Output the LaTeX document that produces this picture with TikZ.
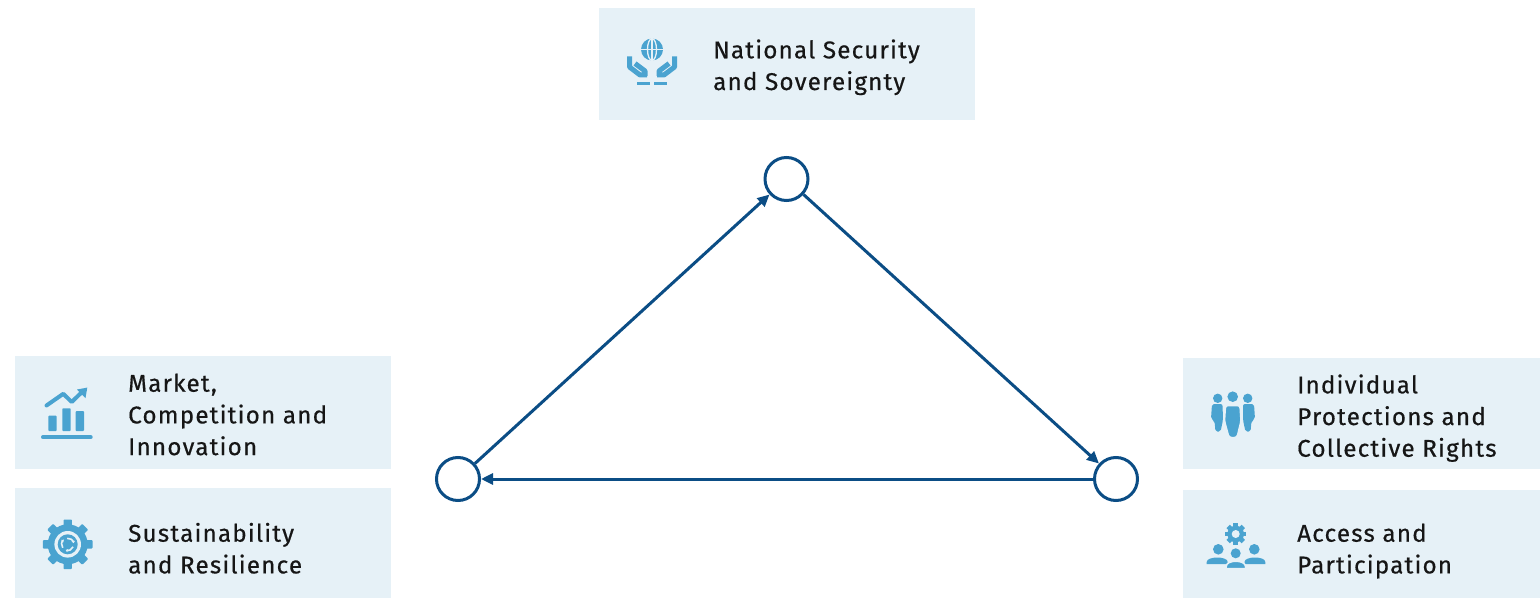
\documentclass[tikz,border=0pt]{standalone}
\usepackage{fontspec}
\setmainfont{Fira Sans}[LetterSpace=5, FakeBold=0.5]
\usetikzlibrary{arrows.meta}
\definecolor{boxfill}{HTML}{E6F1F7}
\definecolor{iconblue}{HTML}{4AA3D0}
\definecolor{linkblue}{HTML}{0B4D85}
\definecolor{txt}{HTML}{161616}
\newcommand{\boxtext}[1]{\begin{tabular}[t]{@{}l@{}}#1\end{tabular}}
\tikzset{
  infobox/.style={fill=boxfill, draw=none, inner sep=0pt},
  label/.style={anchor=base west, inner sep=0pt, text=txt,
     font=\fontsize{24.2}{31.7}\selectfont},
  hub/.style={circle, draw=linkblue, line width=3pt, fill=white, minimum size=43pt, inner sep=0pt},
  link/.style={draw=linkblue, line width=3pt, -{Triangle[length=12pt,width=11pt]}},
  icon/.style={fill=iconblue},
}
\begin{document}
\begin{tikzpicture}[x=1pt,y=-1pt]
\useasboundingbox (0,0) rectangle (1540,599);
% boxes
\node[infobox, minimum width=376pt, minimum height=112pt] (bTop) at (787,64) {};
\node[infobox, minimum width=376pt, minimum height=113pt] (bL1) at (203,412.5) {};
\node[infobox, minimum width=376pt, minimum height=110pt] (bL2) at (203,543) {};
\node[infobox, minimum width=357pt, minimum height=111pt] (bR1) at (1361.5,413.5) {};
\node[infobox, minimum width=357pt, minimum height=108pt] (bR2) at (1361.5,544) {};
% labels
\node[label] (tTop) at (713,58.3) {\boxtext{National Security\\and Sovereignty}};
\node[label] (tL1) at (128,391.7) {\boxtext{Market,\\Competition and\\Innovation}};
\node[label] (tL2) at (128,541.7) {\boxtext{Sustainability\\and Resilience}};
\node[label] (tR1) at (1297,393.3) {\boxtext{Individual\\Protections and\\Collective Rights}};
\node[label] (tR2) at (1297,541.7) {\boxtext{Access and\\Participation}};
% hubs
\node[hub] (nTop) at (786.5,179) {};
\node[hub] (nL) at (458,479) {};
\node[hub] (nR) at (1116,479) {};
\draw[link] (nL) -- (nTop);
\draw[link] (nTop) -- (nR);
\draw[link] (nR) -- (nL);
% icon: hands and globe
\fill[icon] (652,49.5) circle (11);
\draw[boxfill, line width=1.3pt] (652,49.5) ellipse (4.5 and 11);
\draw[boxfill, line width=1.3pt] (640,49.5) -- (664,49.5) (652,38) -- (652,61);
\draw[iconblue, line width=5pt, line join=round]
  (629.5,56.5) -- (629.5,67) -- (640,75) -- (647,75)
  (635,63.5) -- (645,71) -- (645,76);
\draw[iconblue, line width=5pt, line join=round]
  (674.5,56.5) -- (674.5,67) -- (664,75) -- (657,75)
  (669,63.5) -- (659,71) -- (659,76);
\fill[icon] (636.7,82.5) rectangle (650,85.5);
\fill[icon] (654,82.5) rectangle (667.3,85.5);
% icon: chart
\fill[icon, rounded corners=0.8pt] (48.3,415.7) rectangle (56.7,431);
\fill[icon, rounded corners=0.8pt] (62.3,408.3) rectangle (70.7,431);
\fill[icon, rounded corners=0.8pt] (75.7,411) rectangle (84,431);
\draw[iconblue, line width=4pt, line cap=round] (43,437.2) -- (90.7,437.2);
\draw[iconblue, line width=4pt, line join=round, line cap=round]
  (46.5,405.5) -- (63.3,393.8) -- (71.7,402) -- (82,392);
\fill[icon] (87.3,387.6) -- (77,389.5) -- (85.5,398) -- cycle;
% icon: gear
\foreach \a in {0,45,...,315}
  \fill[icon, rotate around={\a:(67.7,544.3)}, rounded corners=0.8pt] (63.5,519.5) rectangle (71.9,530);
\fill[icon] (67.7,544.3) circle (20);
\fill[boxfill] (67.7,544.3) circle (13.3);
\fill[icon] (67.7,544.3) circle (10);
\foreach \a in {25,145,265}
  \draw[boxfill, line width=1.6pt, -{Triangle[length=2.2pt,width=3.2pt]}] ([shift={(\a:6)}]67.7,544.3) arc[start angle=\a, end angle=\a+85, radius=6];
% icon: people
\fill[icon] (1217.7,398.3) circle (4.7);
\fill[icon] (1247.7,398.3) circle (4.7);
\fill[icon] (1232.7,396.7) circle (5.3);
\fill[icon, rounded corners=2pt] (1212,404) -- (1222.5,404) -- (1223,420) -- (1220.5,431.7) -- (1215.5,431.7) -- (1214.5,421) -- (1211,419) -- cycle;
\fill[icon, rounded corners=2pt] (1243,404) -- (1254,404) -- (1255,419) -- (1251.5,421) -- (1250.5,431.7) -- (1245.5,431.7) -- (1243,420) -- cycle;
\filldraw[icon, draw=boxfill, line width=1.5pt, rounded corners=2.5pt] (1225.5,405.5) -- (1240,405.5) -- (1241,421) -- (1237,437.5) -- (1229,437.5) -- (1224.5,421) -- cycle;
% icon: access
\foreach \a in {0,45,...,315}
  \fill[icon, rotate around={\a:(1235.7,534)}] (1233.3,523.3) rectangle (1238.1,528);
\fill[icon] (1235.7,534) circle (8.3);
\fill[boxfill] (1235.7,534) circle (4);
\fill[icon] (1218.3,549.3) circle (5.3);
\fill[icon] (1254.3,549.3) circle (5.3);
\fill[icon] (1235.7,553.3) circle (5);
\fill[icon] (1206.7,564) -- (1206.7,562) .. controls (1206.7,556) and (1227.7,556) .. (1227.7,562) -- (1227.7,564) -- cycle;
\fill[icon] (1244.5,564) -- (1244.5,562) .. controls (1244.5,556) and (1265.3,556) .. (1265.3,562) -- (1265.3,564) -- cycle;
\filldraw[icon, draw=boxfill, line width=1.5pt] (1226.2,568.5) -- (1226.2,566.5) .. controls (1226.2,559.5) and (1245.5,559.5) .. (1245.5,566.5) -- (1245.5,568.5) -- cycle;
\end{tikzpicture}
\end{document}
